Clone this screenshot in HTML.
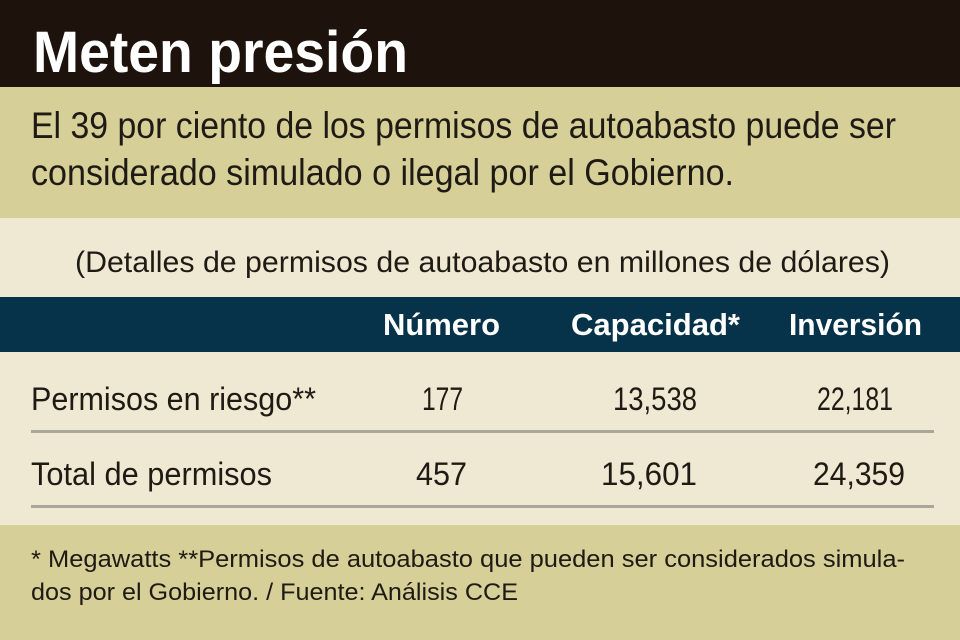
<!DOCTYPE html>
<html><head><meta charset="utf-8"><style>
html,body{margin:0;padding:0;background:#efe9d3}
svg{display:block}
text{font-family:"Liberation Sans",sans-serif;fill:#1f1a14}
.n{font-family:"Liberation Sans Narrow","Liberation Sans",sans-serif}
</style></head><body>
<svg width="960" height="640" viewBox="0 0 960 640" xmlns="http://www.w3.org/2000/svg">
<rect x="0" y="0" width="960" height="87" fill="#1e120c"/>
<rect x="0" y="87" width="960" height="131" fill="#d6cf98"/>
<rect x="0" y="218" width="960" height="79" fill="#efe9d3"/>
<rect x="0" y="297" width="960" height="55" fill="#06334a"/>
<rect x="0" y="352" width="960" height="173" fill="#efe9d3"/>
<rect x="0" y="525" width="960" height="115" fill="#d6cf98"/>
<text x="33" y="72" font-size="58" font-weight="bold" style="fill:#fff" textLength="375" lengthAdjust="spacingAndGlyphs">Meten presión</text>
<text x="31" y="138" font-size="37" textLength="865" lengthAdjust="spacingAndGlyphs">El 39 por ciento de los permisos de autoabasto puede ser</text>
<text x="31" y="185" font-size="37" textLength="703" lengthAdjust="spacingAndGlyphs">considerado simulado o ilegal por el Gobierno.</text>
<text x="75" y="272" font-size="30" textLength="815" lengthAdjust="spacingAndGlyphs">(Detalles de permisos de autoabasto en millones de dólares)</text>
<g font-weight="bold" font-size="31">
<text x="383" y="335" style="fill:#fff" textLength="117" lengthAdjust="spacingAndGlyphs">Número</text>
<text x="571" y="335" style="fill:#fff" textLength="169" lengthAdjust="spacingAndGlyphs">Capacidad*</text>
<text x="789" y="335" style="fill:#fff" textLength="133" lengthAdjust="spacingAndGlyphs">Inversión</text>
</g>
<g font-size="32">
<text x="31" y="410" textLength="285" lengthAdjust="spacingAndGlyphs">Permisos en riesgo**</text>
<text class="n" x="422" y="410" textLength="41" lengthAdjust="spacingAndGlyphs">177</text>
<text class="n" x="613" y="410" textLength="84" lengthAdjust="spacingAndGlyphs">13,538</text>
<text class="n" x="817" y="410" textLength="76" lengthAdjust="spacingAndGlyphs">22,181</text>
<text x="31" y="485" textLength="241" lengthAdjust="spacingAndGlyphs">Total de permisos</text>
<text class="n" x="416" y="485" textLength="51" lengthAdjust="spacingAndGlyphs">457</text>
<text class="n" x="601" y="485" textLength="96" lengthAdjust="spacingAndGlyphs">15,601</text>
<text class="n" x="813" y="485" textLength="92" lengthAdjust="spacingAndGlyphs">24,359</text>
</g>
<rect x="31" y="430" width="903" height="3" fill="#aaa69c"/>
<rect x="31" y="505" width="903" height="3" fill="#aaa69c"/>
<text x="31" y="567" font-size="24" textLength="874" lengthAdjust="spacingAndGlyphs">* Megawatts **Permisos de autoabasto que pueden ser considerados simula-</text>
<text x="31" y="600" font-size="24" textLength="487" lengthAdjust="spacingAndGlyphs">dos por el Gobierno. / Fuente: Análisis CCE</text>
</svg>
</body></html>
